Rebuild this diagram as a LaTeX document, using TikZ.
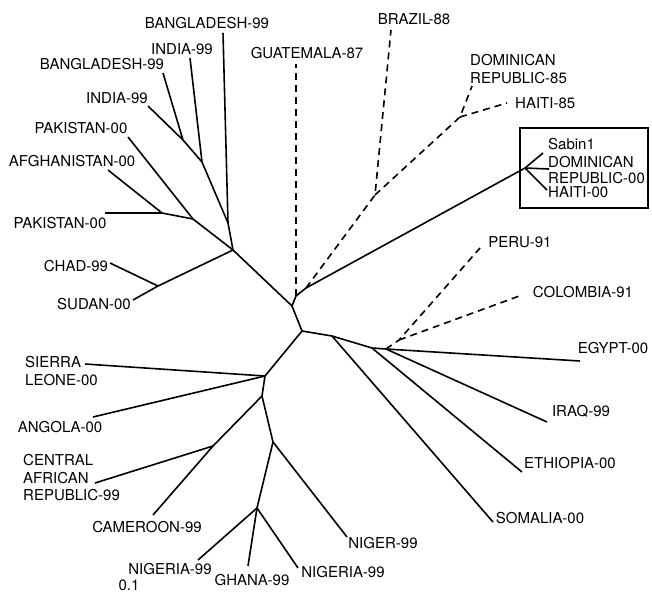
\documentclass[tikz,border=0pt]{standalone}
\usepackage{fontspec}
\setmainfont{TeX Gyre Heros}
\usepackage{tikz}
\tikzset{older/.style={dash pattern=on 7pt off 5pt}}
\tikzset{branch/.style={line width=1.6pt}}

\begin{document}
\begin{tikzpicture}[x=1pt, y=-1pt]
	% Default action for each node
	\tikzstyle{every node}=[inner sep=0pt, font=\fontsize{15}{17.5}\selectfont];
	\useasboundingbox (0,0) rectangle (652,597);

	% Inner junctions
	\coordinate (root) at (292,306);	\coordinate (newroot) at (296,296);	\coordinate (newbend) at (306,288);
	\coordinate (asia) at (233,250);	\coordinate (asiaup) at (228,223);	\coordinate (indup) at (202,162);	\coordinate (indlow) at (183,140);
	\coordinate (pakup) at (193,219);	\coordinate (paklow) at (162,213);	\coordinate (chadsud) at (158,286);
	\coordinate (amer) at (375,195);	\coordinate (carib) at (460,117);	\coordinate (sabin) at (525,168);
	\coordinate (afr) at (302,331);		\coordinate (east) at (332,336);	\coordinate (eastmid) at (372,348);	\coordinate (eastlow) at (386,349);
	\coordinate (andes) at (399,340);
	\coordinate (west) at (265,376);	\coordinate (westmid) at (262,396);	\coordinate (central) at (213,446);
	\coordinate (niger) at (273,442);	\coordinate (nigeria) at (257,508);

	% Leaf ends
	\coordinate (tbang1) at (223,33);	\coordinate (tind1) at (190,58);	\coordinate (tbang2) at (163,73);	\coordinate (tind2) at (148,106);
	\coordinate (tpak1) at (128,137);	\coordinate (tafg) at (108,170);	\coordinate (tpak2) at (105,213);
	\coordinate (tchad) at (110,263);	\coordinate (tsud) at (133,300);
	\coordinate (tguat) at (296,64);	\coordinate (tbraz) at (391,30);	\coordinate (tdom85) at (472,86);	\coordinate (thai85) at (507,103);
	\coordinate (tsab) at (543,153);	\coordinate (tdom00) at (549,169);	\coordinate (thai00) at (547,190);
	\coordinate (tperu) at (480,248);	\coordinate (tcol) at (522,295);
	\coordinate (tegy) at (580,361);	\coordinate (tiraq) at (547,422);	\coordinate (teth) at (522,472);	\coordinate (tsom) at (493,522);
	\coordinate (tsier) at (85,364);	\coordinate (tang) at (93,417);	\coordinate (tcar) at (95,483);	\coordinate (tcam) at (153,515);
	\coordinate (tnig) at (347,537);	\coordinate (tnga1) at (198,560);	\coordinate (tgha) at (248,566);	\coordinate (tnga2) at (298,568);

	% Labels
	\node (bang1) at (207,23) {BANGLADESH-99};
	\node (ind1) at (182,49) {INDIA-99};
	\node (bang2) at (102,64) {BANGLADESH-99};
	\node (ind2) at (117,98) {INDIA-99};
	\node (pak1) at (81,128) {PAKISTAN-00};
	\node (afg) at (72,161) {AFGHANISTAN-00};
	\node (pak2) at (60,223) {PAKISTAN-00};
	\node (chad) at (76,266) {CHAD-99};
	\node (sud) at (94,304) {SUDAN-00};
	\node (guat) at (307,53) {GUATEMALA-87};
	\node (braz) at (414,19) {BRAZIL-88};
	\node[anchor=west, align=left] (dom85) at (470,69) {DOMINICAN\\REPUBLIC-85};
	\node[anchor=west] (hai85) at (515,103) {HAITI-85};
	\node[anchor=west] (sab) at (548,144) {Sabin1};
	\node[anchor=west, align=left, font=\fontsize{15}{15.5}\selectfont] (dom00) at (548,170) {DOMINICAN\\REPUBLIC-00};
	\node[anchor=west] (hai00) at (548,192) {HAITI-00};
	\node (peru) at (520,242) {PERU-91};
	\node (col) at (583,292) {COLOMBIA-91};
	\node (egy) at (613,348) {EGYPT-00};
	\node (iraq) at (581,411) {IRAQ-99};
	\node (eth) at (570,463) {ETHIOPIA-00};
	\node (som) at (540,518) {SOMALIA-00};
	\node[anchor=west, align=left] (sier) at (25,371) {SIERRA\\LEONE-00};
	\node (ang) at (60,427) {ANGOLA-00};
	\node[anchor=west, align=left] (car) at (23,478) {CENTRAL\\AFRICAN\\REPUBLIC-99};
	\node (cam) at (147,527) {CAMEROON-99};
	\node (nig) at (383,543) {NIGER-99};
	\node (nga1) at (170,569) {NIGERIA-99};
	\node (gha) at (252,580) {GHANA-99};
	\node (nga2) at (343,572) {NIGERIA-99};
	\node (scale) at (129,585) {0.1};

	% Box round the vaccine group
	\coordinate (boxsw) at (520,208);	\coordinate (boxne) at (648,128);
	\draw[line width=1.3pt] (boxsw) rectangle (boxne);

	% Backbone
	\draw[branch] (asia) -- (root) -- (newroot) -- (newbend) -- (sabin);
	\draw[branch] (root) -- (afr) -- (east) -- (eastmid) -- (eastlow);
	\draw[branch] (afr) -- (west) -- (westmid) -- (niger) -- (nigeria);

	% Asia
	\draw[branch] (asia) -- (asiaup) -- (tbang1);
	\draw[branch] (asiaup) -- (indup) -- (tind1);
	\draw[branch] (indup) -- (indlow) -- (tbang2);
	\draw[branch] (indlow) -- (tind2);
	\draw[branch] (asia) -- (pakup) -- (tpak1);
	\draw[branch] (pakup) -- (paklow) -- (tafg);
	\draw[branch] (paklow) -- (tpak2);
	\draw[branch] (asia) -- (chadsud) -- (tchad);
	\draw[branch] (chadsud) -- (tsud);

	% Americas, old strains
	\draw[branch, older] (newroot) -- (tguat);
	\draw[branch, older] (newbend) -- (amer) -- (tbraz);
	\draw[branch, older] (amer) -- (carib) -- (tdom85);
	\draw[branch, older] (carib) -- (thai85);
	\draw[branch, older] (eastlow) -- (andes) -- (tperu);
	\draw[branch, older] (andes) -- (tcol);

	% Vaccine group
	\draw[branch] (sabin) -- (tsab);
	\draw[branch] (sabin) -- (tdom00);
	\draw[branch] (sabin) -- (thai00);

	% Africa, east
	\draw[branch] (eastlow) -- (tegy);
	\draw[branch] (eastlow) -- (tiraq);
	\draw[branch] (eastmid) -- (teth);
	\draw[branch] (east) -- (tsom);

	% Africa, west
	\draw[branch] (west) -- (tsier);
	\draw[branch] (west) -- (tang);
	\draw[branch] (westmid) -- (central) -- (tcam);
	\draw[branch] (central) -- (tcar);
	\draw[branch] (niger) -- (tnig);
	\draw[branch] (nigeria) -- (tnga1);
	\draw[branch] (nigeria) -- (tgha);
	\draw[branch] (nigeria) -- (tnga2);
\end{tikzpicture}
\end{document}
